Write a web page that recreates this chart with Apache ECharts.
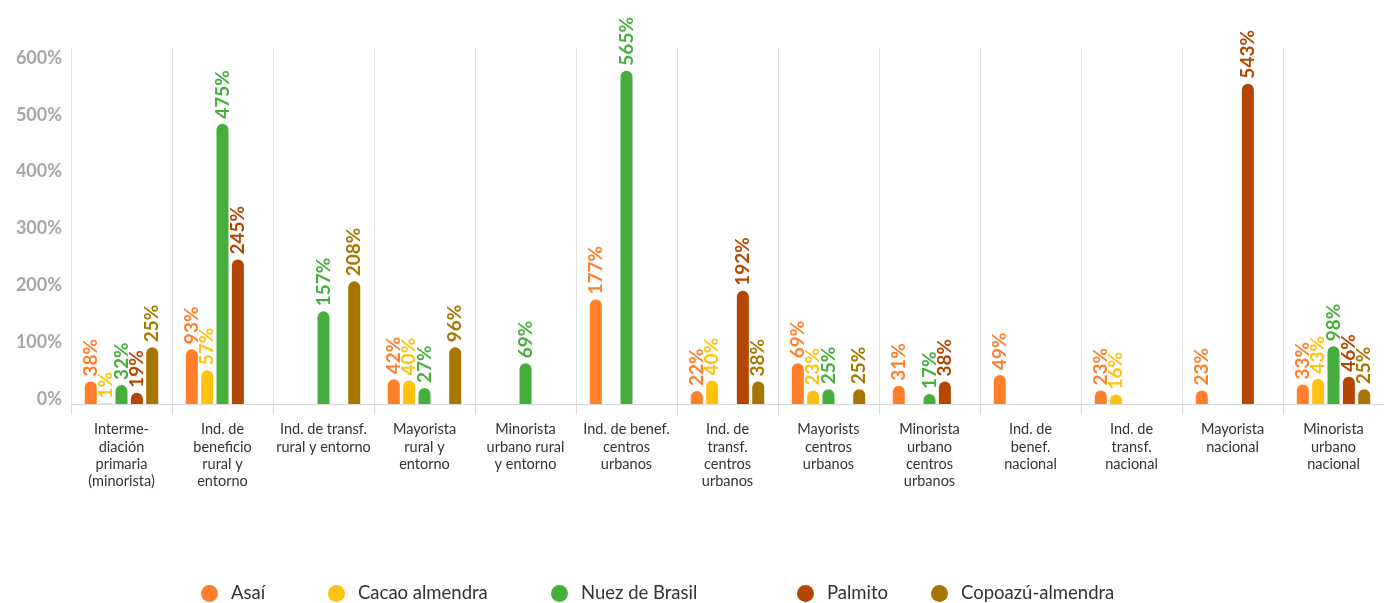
<!DOCTYPE html>
<html><head><meta charset="utf-8">
<script src="https://cdn.jsdelivr.net/npm/echarts@6/dist/echarts.min.js"></script>
<style>html,body{margin:0;padding:0;background:#fff}#c{width:1384px;height:603px}</style>
</head><body><div id="c"></div>
<script>
const categories = [
  'Interme-\ndiación\nprimaria\n(minorista)',
  'Ind. de\nbeneficio\nrural y\nentorno',
  'Ind. de transf.\nrural y entorno',
  'Mayorista\nrural y\nentorno',
  'Minorista\nurbano rural\ny entorno',
  'Ind. de benef.\ncentros\nurbanos',
  'Ind. de\ntransf.\ncentros\nurbanos',
  'Mayorists\ncentros\nurbanos',
  'Minorista\nurbano\ncentros\nurbanos',
  'Ind. de\nbenef.\nnacional',
  'Ind. de\ntransf.\nnacional',
  'Mayorista\nnacional',
  'Minorista\nurbano\nnacional'
];
const seriesNames = ['Asaí', 'Cacao almendra', 'Nuez de Brasil', 'Palmito', 'Copoazú-almendra'];
const asai    = [38, 93, null, 42, null, 177, 22, 69, 31, 49, 23, 23, 33];
const cacao   = [1, 57, null, 40, null, null, 40, 23, null, null, 16, null, 43];
const nuez    = [32, 475, 157, 27, 69, 565, null, 25, 17, null, null, null, 98];
const palmito = [19, 245, null, null, null, null, 192, null, 38, null, null, 543, 46];
const copoazu = [96, null, 208, 96, null, null, 38, 25, null, null, null, null, 25];
// label text printed in the source where it differs from the drawn bar
const labelOverrides = [{ series: 4, index: 0, text: '25%' }];
const yTicks = { min: 0, max: 600, interval: 100 };

const colors = ['#FF7F2A', '#FFC20E', '#46AE3C', '#B54600', '#A67700'];
const seriesData = [asai, cacao, nuez, palmito, copoazu];
const legendLeft = [201, 328, 551, 797, 931];

const chart = echarts.init(document.getElementById('c'), null, { renderer: 'canvas' });
const option = {
  animation: false,
  backgroundColor: '#fff',
  grid: [
    { left: 71, right: 0, top: 48, bottom: 199 },
    { left: 71, right: 0, top: 58, bottom: 204 }
  ],
  xAxis: [
    {
      type: 'category', gridIndex: 0, data: categories,
      axisLine: { lineStyle: { color: '#d9d9d9', width: 1 } },
      axisTick: { show: true, length: 11, lineStyle: { color: '#d9d9d9' } },
      splitLine: { show: true, lineStyle: { color: '#e3e3e3', width: 1 } },
      axisLabel: { interval: 0, margin: 17, color: '#333', fontFamily: 'Lato', fontSize: 14.5, lineHeight: 17.3, align: 'center' }
    },
    { type: 'category', gridIndex: 1, data: categories, show: false }
  ],
  yAxis: [
    { type: 'value', gridIndex: 0, min: 0, max: 603.4, show: false, splitLine: { show: false } },
    {
      type: 'value', gridIndex: 1, min: yTicks.min, max: yTicks.max, interval: yTicks.interval,
      axisLine: { show: false }, axisTick: { show: false }, splitLine: { show: false },
      axisLabel: { formatter: '{value}%', color: '#a6a6a6', fontFamily: 'Lato', fontWeight: 'bold', fontSize: 18, margin: 9 }
    }
  ],
  legend: seriesNames.map((n, i) => ({
    data: [n], left: legendLeft[i], top: 584, padding: 0,
    icon: 'circle', itemWidth: 17, itemHeight: 17,
    textStyle: { color: '#333', fontFamily: 'Lato', fontSize: 18.5, padding: [0, 0, 0, 8] }
  })),
  series: seriesNames.map((n, i) => ({
    name: n, type: 'bar', xAxisIndex: 0, yAxisIndex: 0,
    data: seriesData[i], barWidth: 12, barGap: '28%', barCategoryGap: '27%',
    itemStyle: { color: colors[i], borderRadius: [6, 6, 0, 0] },
    label: {
      show: true, position: 'top', rotate: 90, align: 'left', verticalAlign: 'middle', distance: 5,
      color: colors[i], fontFamily: 'Lato', fontWeight: 'bold', fontSize: 19,
      formatter: p => {
        const o = labelOverrides.find(l => l.series === i && l.index === p.dataIndex);
        return o ? o.text : p.value + '%';
      }
    }
  }))
};
chart.setOption(option);
</script>
</body></html>
